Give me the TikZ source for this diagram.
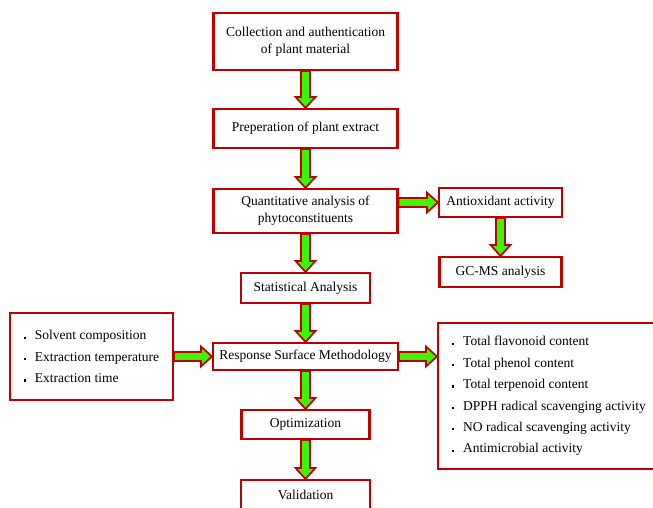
\documentclass[tikz,border=0pt]{standalone}
\usepackage{fontspec}
\setmainfont{Liberation Serif}
\usepackage{tikz}
\usetikzlibrary{calc,positioning}
\definecolor{boxred}{RGB}{192,0,0}
\definecolor{arrowgreen}{RGB}{60,245,0}

% block arrow between two points
\newcommand{\fatarrow}[2]{%
  \coordinate (fa-h) at ($(#2)!11pt!(#1)$);
  \filldraw[fill=arrowgreen, draw=boxred, line width=1.7pt, line join=miter]
    ($(#1)!4.5pt!90:(#2)$) -- ($(fa-h)!4.5pt!-90:(#1)$) -- ($(fa-h)!10pt!-90:(#1)$) -- (#2)
    -- ($(fa-h)!10pt!90:(#1)$) -- ($(fa-h)!4.5pt!90:(#1)$) -- ($(#1)!4.5pt!-90:(#2)$) -- cycle;}
\newcommand{\bdot}{\makebox[11pt][l]{\raisebox{1pt}{\rule{2.2pt}{2.2pt}}}}

\begin{document}
\begin{tikzpicture}[x=1pt,y=-1pt,
    stagebox/.style={draw=boxred, line width=2.1pt, fill=white, align=center,
      inner sep=2pt, font=\fontsize{13.5}{17}\selectfont},
    listbox/.style={stagebox, align=left, font=\fontsize{13.5}{21.4}\selectfont}]
          \useasboundingbox (0,0) rectangle (653,508);
          \clip (0,0) rectangle (653,508);
          % main column
          \node[stagebox, minimum width=184pt, minimum height=57pt] (collect) at (305.5,41.5)
            {Collection and authentication\\of plant material};
          \node[stagebox, minimum width=184pt, minimum height=39pt] (extract) at (305.5,128.5)
            {Preperation of plant extract};
          \node[stagebox, minimum width=184pt, minimum height=44pt] (quant) at (305.5,211)
            {Quantitative analysis of\\phytoconstituents};
          \node[stagebox, minimum width=129pt, minimum height=30pt] (stat) at (305.5,288)
            {Statistical Analysis};
          \node[stagebox, minimum width=185pt, minimum height=27pt] (rsm) at (305.5,356.5)
            {Response Surface Methodology};
          \node[stagebox, minimum width=128pt, minimum height=29pt] (opt) at (305.5,424.5)
            {Optimization};
          \node[stagebox, minimum width=129pt, minimum height=30pt] (valid) at (305.5,495)
            {Validation};
          % side boxes
          \node[stagebox, minimum width=123pt, minimum height=29pt] (anti) at (500.5,202.5)
            {Antioxidant activity};
          \node[stagebox, minimum width=122pt, minimum height=30pt] (gcms) at (500.5,272)
            {GC-MS analysis};
          \node[listbox, minimum width=163pt, minimum height=87pt] (factors) at (91.5,356.5)
            {\bdot Solvent composition\\\bdot Extraction temperature\\\bdot Extraction time};
          \node[listbox, minimum width=222pt, minimum height=146pt] (resp) at (549,396)
            {\bdot Total flavonoid content\\\bdot Total phenol content\\\bdot Total terpenoid content\\
             \bdot DPPH radical scavenging activity\\\bdot NO radical scavenging activity\\
             \bdot Antimicrobial activity};
          % arrows
          \fatarrow{collect.south}{extract.north}
          \fatarrow{extract.south}{quant.north}
          \fatarrow{quant.south}{stat.north}
          \fatarrow{stat.south}{rsm.north}
          \fatarrow{rsm.south}{opt.north}
          \fatarrow{opt.south}{valid.north}
          \fatarrow{anti.south}{gcms.north}
          \coordinate (qa) at (quant.east |- anti.west);
          \fatarrow{qa}{anti.west}
          \fatarrow{factors.east}{rsm.west}
          \coordinate (rr) at (rsm.east -| resp.west);
          \fatarrow{rsm.east}{rr}
\end{tikzpicture}
\end{document}
